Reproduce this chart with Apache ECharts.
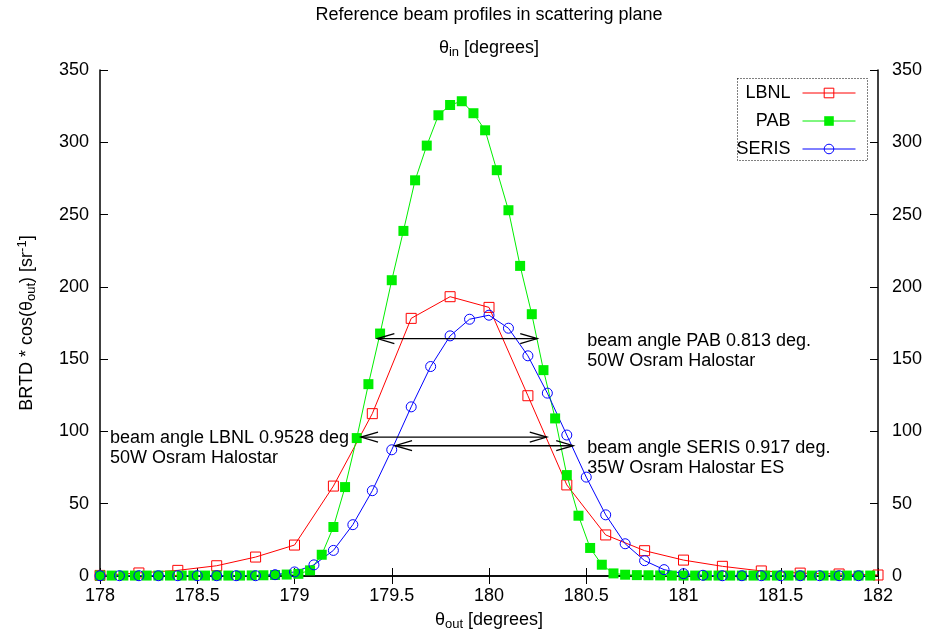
<!DOCTYPE html>
<html>
<head>
<meta charset="utf-8">
<script src="https://cdn.jsdelivr.net/npm/echarts@6/dist/echarts.min.js"></script>
<style>
  html, body { margin: 0; padding: 0; background: #fff; }
  #chart { width: 930px; height: 638px; }
</style>
</head>
<body>
<div id="chart"></div>
<script>
// LBNL, every 0.2 deg
var lbnlX = [178.0, 178.2, 178.4, 178.6, 178.8, 179.0, 179.2, 179.4, 179.6, 179.8, 180.0,
             180.2, 180.4, 180.6, 180.8, 181.0, 181.2, 181.4, 181.6, 181.8, 182.0];
var lbnlY = [0.4, 2.1, 3.9, 7.1, 13.1, 21.4, 62.2, 112.3, 178.2, 193.2, 185.8,
             124.7, 63.0, 28.4, 17.5, 11.0, 6.7, 3.5, 2.0, 1.4, 0.7];

// PAB, every 0.06 deg
var pabX = [178.00, 178.06, 178.12, 178.18, 178.24, 178.30, 178.36, 178.42, 178.48, 178.54,
            178.60, 178.66, 178.72, 178.78, 178.84, 178.90, 178.96, 179.02, 179.08, 179.14,
            179.20, 179.26, 179.32, 179.38, 179.44, 179.50, 179.56, 179.62, 179.68, 179.74,
            179.80, 179.86, 179.92, 179.98, 180.04, 180.10, 180.16, 180.22, 180.28, 180.34,
            180.40, 180.46, 180.52, 180.58, 180.64, 180.70, 180.76, 180.82, 180.88, 180.94,
            181.00, 181.06, 181.12, 181.18, 181.24, 181.30, 181.36, 181.42, 181.48, 181.54,
            181.60, 181.66, 181.72, 181.78, 181.84, 181.90, 181.96];
var pabY = [0.3, 0.3, 0.3, 0.3, 0.3, 0.3, 0.3, 0.3, 0.3, 0.3,
            0.3, 0.3, 0.3, 0.4, 0.5, 0.7, 1.0, 1.5, 3.9, 14.7,
            33.9, 61.5, 95.4, 132.7, 167.7, 204.6, 238.7, 273.7, 297.7, 318.7,
            325.8, 328.4, 320.1, 308.3, 280.7, 253.0, 214.5, 181.1, 142.4, 109.0,
            69.8, 41.7, 19.4, 7.8, 1.8, 0.9, 0.6, 0.5, 0.4, 0.3,
            0.3, 0.3, 0.3, 0.3, 0.3, 0.3, 0.3, 0.3, 0.3, 0.3,
            0.3, 0.3, 0.3, 0.3, 0.3, 0.3, 0.3];

// SERIS, every 0.1 deg
var serisX = [178.0, 178.1, 178.2, 178.3, 178.4, 178.5, 178.6, 178.7, 178.8, 178.9,
              179.0, 179.1, 179.2, 179.3, 179.4, 179.5, 179.6, 179.7, 179.8, 179.9,
              180.0, 180.1, 180.2, 180.3, 180.4, 180.5, 180.6, 180.7, 180.8, 180.9,
              181.0, 181.1, 181.2, 181.3, 181.4, 181.5, 181.6, 181.7, 181.8, 181.9];
var serisY = [0.2, 0.2, 0.2, 0.2, 0.2, 0.2, 0.2, 0.2, 0.2, 0.9,
              2.8, 7.7, 17.7, 35.5, 59.0, 87.3, 117.0, 144.9, 166.1, 177.6,
              180.4, 171.4, 152.3, 126.5, 97.5, 68.4, 42.3, 22.3, 10.6, 4.4,
              1.6, 0.5, 0.2, 0.2, 0.2, 0.2, 0.2, 0.2, 0.2, 0.2];

// beam angle arrows: from, to, height
var arrowFrom = [179.426, 179.342, 179.517];
var arrowTo   = [180.248, 180.297, 180.433];
var arrowAt   = [164.2, 96.1, 90.1];

// notes: anchor (top-left of text) in data units
var noteX = [180.505, 178.051, 180.505];
var noteY = [169.1, 102.3, 95.4];
var noteText = [
  'beam angle PAB 0.813 deg.\n50W Osram Halostar',
  'beam angle LBNL 0.9528 deg\n50W Osram Halostar',
  'beam angle SERIS 0.917 deg.\n35W Osram Halostar ES'
];

var xTicks = { min: 178, max: 182, interval: 0.5 };
var yTicks = { min: 0, max: 350, interval: 50 };

function zip(xs, ys) {
  return xs.map(function (x, i) { return [x, ys[i]]; });
}

var FONT = "'Liberation Sans', Arial, Helvetica, sans-serif";
var axisLine = { lineStyle: { color: '#000', width: 1.5 } };
var axisTick = { inside: true, length: 8, lineStyle: { color: '#000', width: 1 } };
var subRich = { fontSize: 13, fontFamily: FONT, color: '#000', padding: [9, 0, 0, 0] };

var chart = echarts.init(document.getElementById('chart'));

function legendFor(name, top) {
  return {
    data: [name],
    right: 74,
    top: top,
    padding: 0,
    align: 'right',
    itemWidth: 53,
    itemHeight: 12,
    selectedMode: false,
    itemStyle: { borderWidth: 1 },
    lineStyle: { width: 1 },
    textStyle: { fontSize: 18, fontFamily: FONT, color: '#000', padding: [0, 7, 0, 0] }
  };
}

chart.setOption({
  animation: false,
  legend: [legendFor('LBNL', 84), legendFor('PAB', 112), legendFor('SERIS', 140)],
  graphic: [{
    type: 'text',
    x: 489,
    y: 6,
    style: {
      text: 'Reference beam profiles in scattering plane',
      fill: '#000', fontSize: 18, fontFamily: FONT,
      textAlign: 'center', textVerticalAlign: 'top'
    }
  }, {
    type: 'rect',
    shape: { x: 737.5, y: 78.5, width: 130, height: 82 },
    style: { fill: 'none', stroke: '#000', lineWidth: 1, lineDash: [1, 2] },
    z: 10
  }],
  grid: { left: 100, right: 52, top: 70, bottom: 62 },
  xAxis: [{
    type: 'value',
    position: 'bottom',
    min: xTicks.min, max: xTicks.max, interval: xTicks.interval,
    axisLine: axisLine, axisTick: axisTick,
    splitLine: { show: false },
    axisLabel: { fontSize: 18, fontFamily: FONT, color: '#000', margin: 11 },
    name: 'θ{sub|out} [degrees]',
    nameLocation: 'middle',
    nameGap: 33,
    nameTextStyle: { fontSize: 18, fontFamily: FONT, color: '#000', rich: { sub: subRich } }
  }, {
    type: 'value',
    position: 'top',
    min: xTicks.min, max: xTicks.max, interval: xTicks.interval,
    axisLine: axisLine, axisTick: axisTick,
    splitLine: { show: false },
    axisLabel: { show: false },
    name: 'θ{sub|in} [degrees]',
    nameLocation: 'middle',
    nameGap: 11,
    nameTextStyle: { fontSize: 18, fontFamily: FONT, color: '#000', rich: { sub: subRich } }
  }],
  yAxis: [{
    type: 'value',
    position: 'left',
    min: yTicks.min, max: yTicks.max, interval: yTicks.interval,
    axisLine: axisLine, axisTick: axisTick,
    splitLine: { show: false },
    axisLabel: { fontSize: 18, fontFamily: FONT, color: '#000', margin: 11 },
    name: 'BRTD * cos(θ{sub|out}) [sr{sup|-1}]',
    nameLocation: 'middle',
    nameGap: 62,
    nameTextStyle: {
      fontSize: 18, fontFamily: FONT, color: '#000',
      rich: {
        sub: subRich,
        sup: { fontSize: 13, fontFamily: FONT, color: '#000', padding: [0, 0, 9, 0] }
      }
    }
  }, {
    type: 'value',
    position: 'right',
    min: yTicks.min, max: yTicks.max, interval: yTicks.interval,
    axisLine: axisLine, axisTick: axisTick,
    splitLine: { show: false },
    axisLabel: { fontSize: 18, fontFamily: FONT, color: '#000', margin: 14 }
  }],
  series: [{
    name: 'LBNL',
    type: 'line',
    data: zip(lbnlX, lbnlY),
    symbol: 'rect',
    symbolSize: 10,
    lineStyle: { color: '#ff0000', width: 1 },
    itemStyle: { color: 'rgba(255,255,255,0)', borderColor: '#ff0000', borderWidth: 1 }
  }, {
    name: 'PAB',
    type: 'line',
    data: zip(pabX, pabY),
    symbol: 'rect',
    symbolSize: 10,
    lineStyle: { color: '#00ee00', width: 1 },
    itemStyle: { color: '#00ee00' }
  }, {
    name: 'SERIS',
    type: 'line',
    data: zip(serisX, serisY),
    symbol: 'circle',
    symbolSize: 10,
    lineStyle: { color: '#0000ff', width: 1 },
    itemStyle: { color: 'rgba(255,255,255,0)', borderColor: '#0000ff', borderWidth: 1 }
  }, {
    name: 'arrows',
    type: 'custom',
    data: arrowFrom.map(function (x, i) { return [x, arrowTo[i], arrowAt[i]]; }),
    encode: { x: [0, 1], y: 2 },
    z: 5,
    renderItem: function (params, api) {
      var a = api.coord([api.value(0), api.value(2)]);
      var b = api.coord([api.value(1), api.value(2)]);
      var st = { stroke: '#000', lineWidth: 1.3, fill: 'none' };
      return {
        type: 'group',
        children: [
          { type: 'line', shape: { x1: a[0], y1: a[1], x2: b[0], y2: b[1] }, style: st },
          { type: 'polyline', shape: { points: [[a[0] + 17, a[1] - 5], a, [a[0] + 17, a[1] + 5]] }, style: st },
          { type: 'polyline', shape: { points: [[b[0] - 17, b[1] - 5], b, [b[0] - 17, b[1] + 5]] }, style: st }
        ]
      };
    }
  }, {
    name: 'notes',
    type: 'custom',
    data: noteX.map(function (x, i) { return [x, noteY[i], i]; }),
    encode: { x: 0, y: 1 },
    z: 6,
    renderItem: function (params, api) {
      var p = api.coord([api.value(0), api.value(1)]);
      return {
        type: 'text',
        x: p[0],
        y: p[1],
        style: {
          text: noteText[api.value(2)],
          fill: '#000',
          fontSize: 18,
          fontFamily: FONT,
          lineHeight: 20,
          textAlign: 'left',
          textVerticalAlign: 'top'
        }
      };
    }
  }]
});
</script>
</body>
</html>
